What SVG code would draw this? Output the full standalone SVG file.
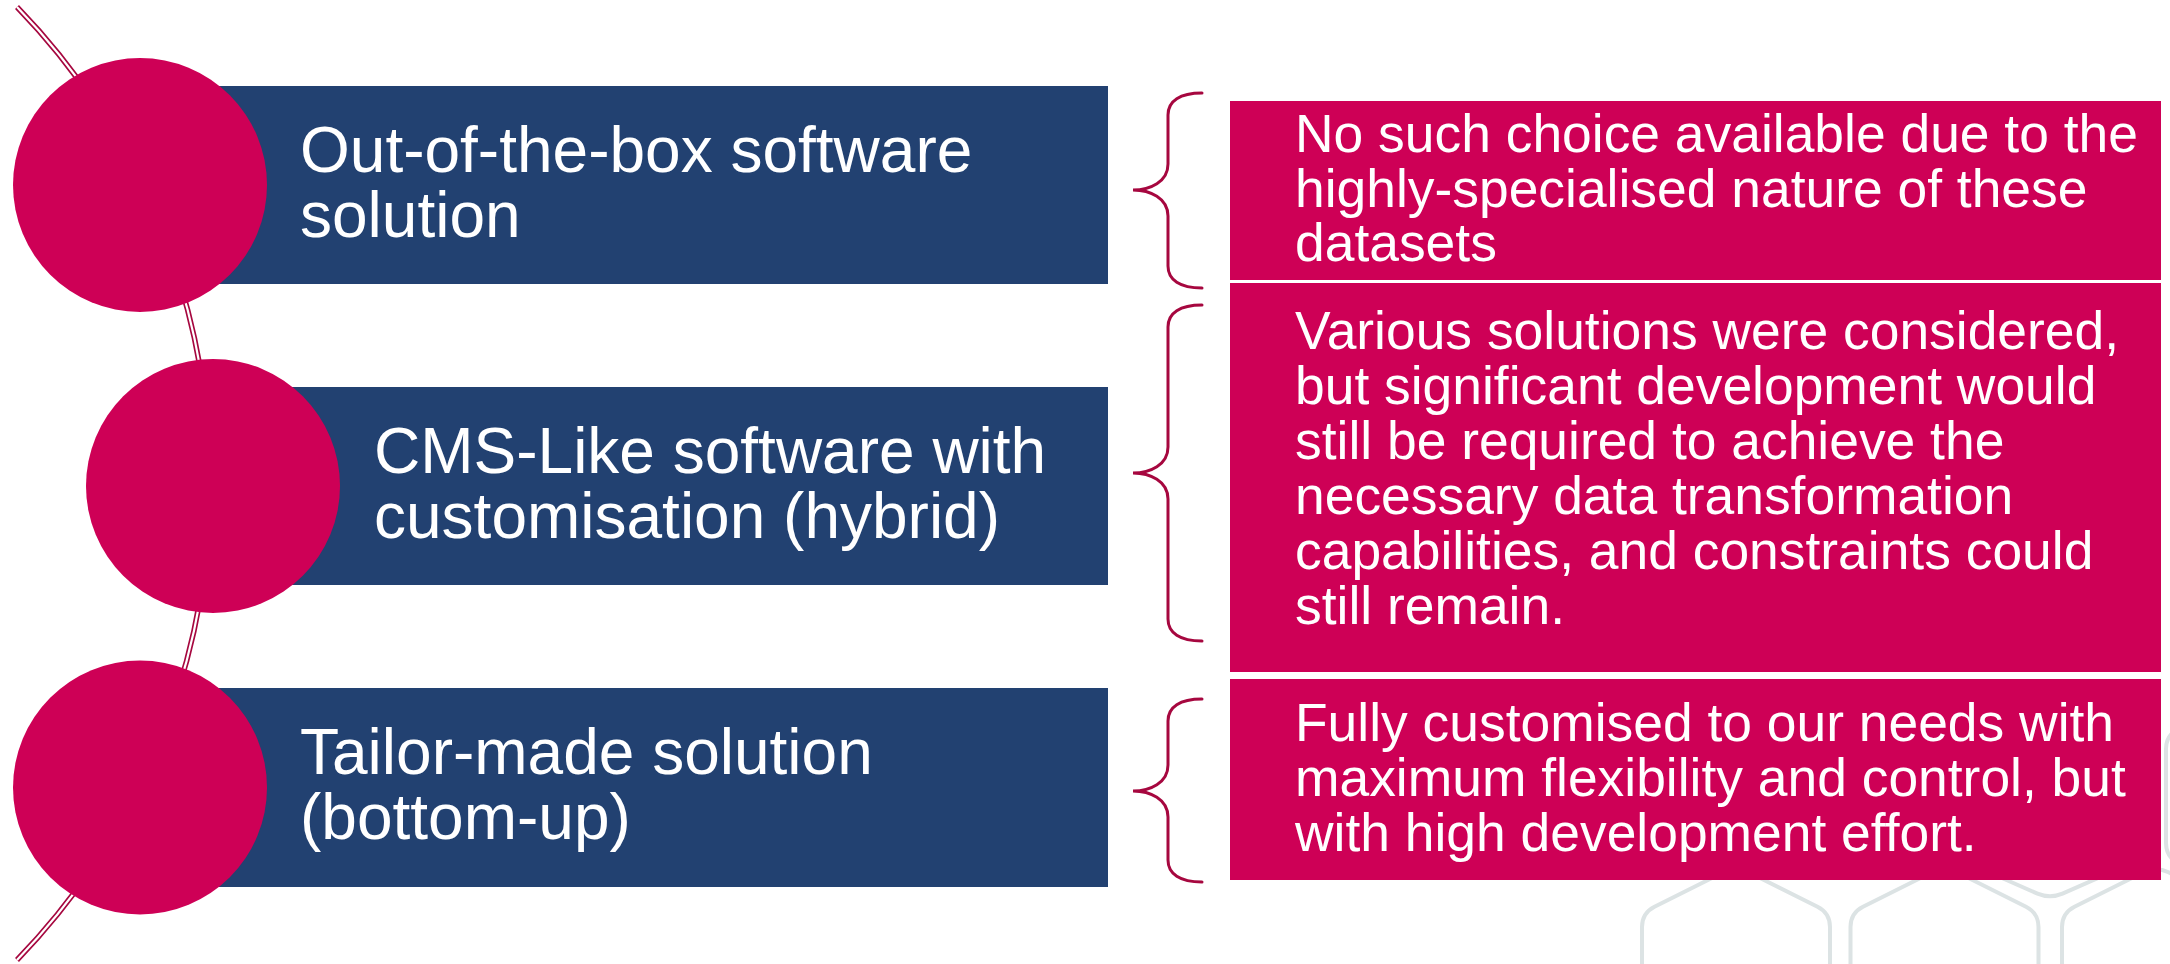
<svg xmlns="http://www.w3.org/2000/svg" width="2170" height="964" viewBox="0 0 2170 964">
  <style>
    .hex { fill: none; stroke: #dce3e4; stroke-width: 4; }
    .circ { fill: #ce0056; }
    .bar { fill: #224171; }
    .box { fill: #ce0056; }
    .brace { fill: none; stroke: #a6073f; stroke-width: 3; stroke-linecap: round; }
    .tb { font-family: "Liberation Sans", Arial, sans-serif; font-size: 64px; fill: #ffffff; }
    .tp { font-family: "Liberation Sans", Arial, sans-serif; font-size: 53.4px; fill: #ffffff; }
  </style>
  <rect width="2170" height="964" fill="#ffffff"/>
  <g id="background-hexagons">
    <path class="hex" d="M 1723.5,872.3 Q 1736,866 1748.5,872.3 L 1817.5,906.7 Q 1830,913 1830,927 L 1830,1023 Q 1830,1037 1817.5,1043.3 L 1748.5,1077.7 Q 1736,1084 1723.5,1077.7 L 1654.5,1043.3 Q 1642,1037 1642,1023 L 1642,927 Q 1642,913 1654.5,906.7 Z"/>
    <path class="hex" d="M 1932,872.3 Q 1944.5,866 1957,872.3 L 2026,906.7 Q 2038.5,913 2038.5,927 L 2038.5,1023 Q 2038.5,1037 2026,1043.3 L 1957,1077.7 Q 1944.5,1084 1932,1077.7 L 1863,1043.3 Q 1850.5,1037 1850.5,1023 L 1850.5,927 Q 1850.5,913 1863,906.7 Z"/>
    <path class="hex" d="M 2143.5,872.3 Q 2156,866 2168.5,872.3 L 2237.5,906.7 Q 2250,913 2250,927 L 2250,1023 Q 2250,1037 2237.5,1043.3 L 2168.5,1077.7 Q 2156,1084 2143.5,1077.7 L 2074.5,1043.3 Q 2062,1037 2062,1023 L 2062,927 Q 2062,913 2074.5,906.7 Z"/>
    <path class="hex" d="M 2037.5,694.3 Q 2050,688 2062.5,694.3 L 2131.5,728.7 Q 2144,735 2144,749 L 2144,843 Q 2144,857 2131.5,863.3 L 2062.5,893.7 Q 2050,899 2037.5,893.7 L 1968.5,863.3 Q 1956,857 1956,843 L 1956,749 Q 1956,735 1968.5,728.7 Z"/>
    <path class="hex" d="M 2247.5,694.3 Q 2260,688 2272.5,694.3 L 2341.5,728.7 Q 2354,735 2354,749 L 2354,843 Q 2354,857 2341.5,863.3 L 2272.5,897.7 Q 2260,904 2247.5,897.7 L 2178.5,863.3 Q 2166,857 2166,843 L 2166,749 Q 2166,735 2178.5,728.7 Z"/>
  </g>
  <g id="connectors">
    <g id="timeline-arc">
      <path d="M 17,7 A 685 685 0 0 1 17,960" fill="none" stroke="#a6073f" stroke-width="5.5"/>
      <path d="M 17,7 A 685 685 0 0 1 17,960" fill="none" stroke="#ffffff" stroke-width="2.2"/>
    </g>
    <path id="brace-1" class="brace" d="M 1202,93 C 1180,93 1168,101 1168,115 L 1168,164 C 1168,182 1150,190 1133,190 C 1150,190 1168,198 1168,216 L 1168,266 C 1168,280 1180,288 1202,288"/>
    <path id="brace-2" class="brace" d="M 1202,305 C 1180,305 1168,313 1168,327 L 1168,447 C 1168,465 1150,473 1133,473 C 1150,473 1168,481 1168,499 L 1168,619 C 1168,633 1180,641 1202,641"/>
    <path id="brace-3" class="brace" d="M 1202,699 C 1180,699 1168,707 1168,721 L 1168,765 C 1168,783 1150,791 1133,791 C 1150,791 1168,799 1168,817 L 1168,860 C 1168,874 1180,882 1202,882"/>
  </g>
  <g id="option-1">
    <rect class="bar" x="140" y="86" width="968" height="198"/>
    <circle class="circ" cx="140" cy="185" r="127"/>
    <text class="tb" x="300" y="172">Out-of-the-box software</text>
    <text class="tb" x="300" y="237">solution</text>
  </g>
  <g id="option-2">
    <rect class="bar" x="213" y="387" width="895" height="198"/>
    <circle class="circ" cx="213" cy="486" r="127"/>
    <text class="tb" x="374" y="473">CMS-Like software with</text>
    <text class="tb" x="374" y="538">customisation (hybrid)</text>
  </g>
  <g id="option-3">
    <rect class="bar" x="140" y="688" width="968" height="199"/>
    <circle class="circ" cx="140" cy="787.5" r="127"/>
    <text class="tb" x="300" y="774">Tailor-made solution</text>
    <text class="tb" x="300" y="839">(bottom-up)</text>
  </g>
  <g id="note-1">
    <rect class="box" x="1230" y="101" width="931" height="179"/>
    <text class="tp" x="1295" y="152">No such choice available due to the</text>
    <text class="tp" x="1295" y="207">highly-specialised nature of these</text>
    <text class="tp" x="1295" y="261">datasets</text>
  </g>
  <g id="note-2">
    <rect class="box" x="1230" y="283" width="931" height="389"/>
    <text class="tp" x="1295" y="349">Various solutions were considered,</text>
    <text class="tp" x="1295" y="404">but significant development would</text>
    <text class="tp" x="1295" y="459">still be required to achieve the</text>
    <text class="tp" x="1295" y="514">necessary data transformation</text>
    <text class="tp" x="1295" y="569">capabilities, and constraints could</text>
    <text class="tp" x="1295" y="624">still remain.</text>
  </g>
  <g id="note-3">
    <rect class="box" x="1230" y="679" width="931" height="201"/>
    <text class="tp" x="1295" y="741">Fully customised to our needs with</text>
    <text class="tp" x="1295" y="796">maximum flexibility and control, but</text>
    <text class="tp" x="1295" y="851">with high development effort.</text>
  </g>
</svg>
